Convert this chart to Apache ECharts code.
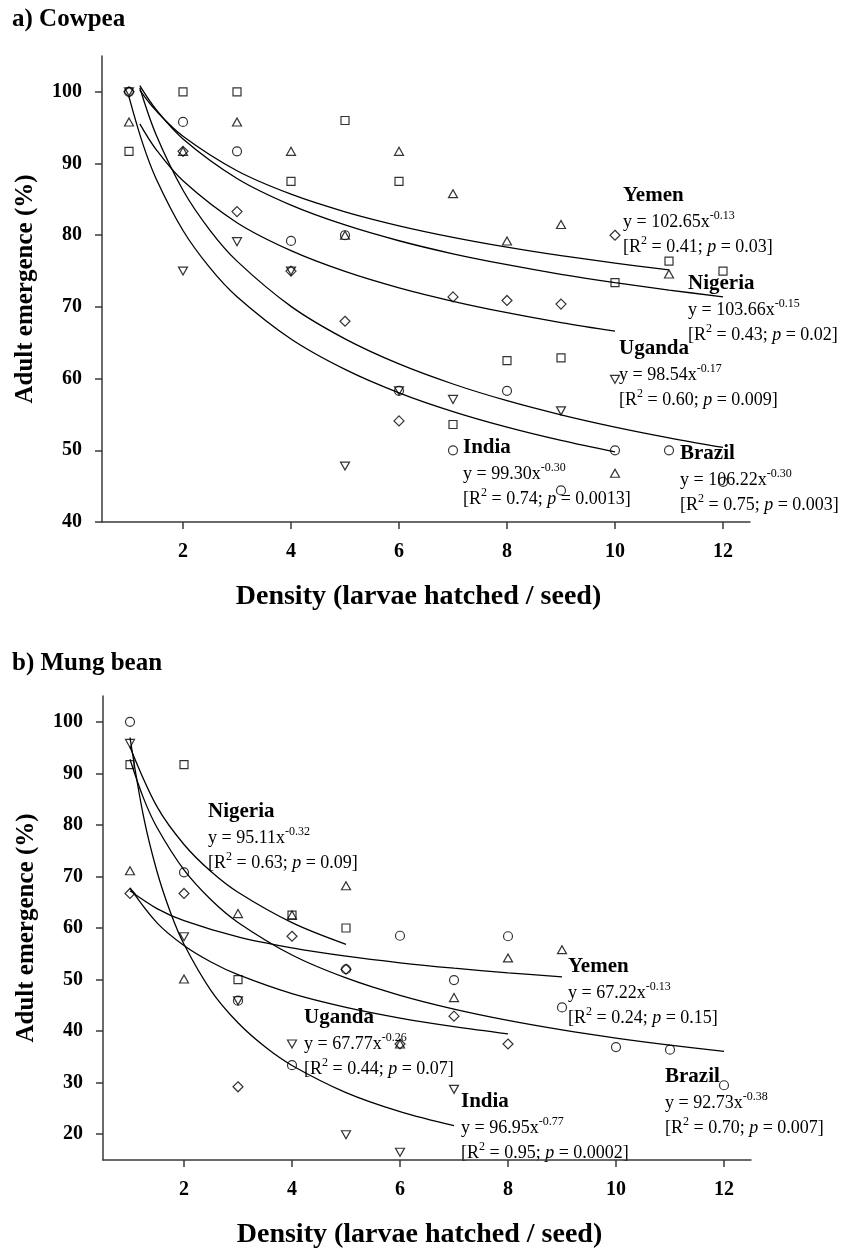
<!DOCTYPE html>
<html>
<head>
<meta charset="utf-8">
<title>Adult emergence vs density</title>
<script src="https://cdn.jsdelivr.net/npm/echarts@6/dist/echarts.min.js"></script>
<style>
  html, body { margin: 0; padding: 0; background: #fff; }
  #chart { width: 841px; height: 1250px; }
</style>
</head>
<body>
<div id="chart"></div>
<script>
// larvae hatched per seed
const density = [1, 2, 3, 4, 5, 6, 7, 8, 9, 10, 11, 12];
const xTicks = [2, 4, 6, 8, 10, 12];
const yTicksCowpea = [40, 50, 60, 70, 80, 90, 100];
const yTicksMung = [20, 30, 40, 50, 60, 70, 80, 90, 100];

// a) Cowpea, adult emergence (%) per density, null = no point
const cowpeaBrazil = [100, 95.8, 91.7, 79.2, 80, 58.3, 50, 58.3, 44.4, 50, 50, 45.6];     // circles
const cowpeaNigeria = [91.7, 100, 100, 87.5, 96, 87.5, 53.6, 62.5, 62.9, 73.4, 76.4, 75]; // squares
const cowpeaYemen = [95.8, 91.7, 95.8, 91.7, 80, 91.7, 85.8, 79.2, 81.5, 46.8, 74.6];     // triangles
const cowpeaIndia = [100, 75, 79.1, 75, 47.8, 58.3, 57.1, null, 55.5, 59.9];              // inverted triangles
const cowpeaUganda = [100, 91.7, 83.3, 75, 68, 54.1, 71.4, 70.9, 70.4, 80];               // diamonds

// b) Mung bean
const mungBrazil = [100, 70.8, 45.9, 33.4, 52, 58.5, 49.9, 58.4, 44.6, 36.9, 36.4, 29.5];
const mungNigeria = [91.7, 91.7, 50, 62.5, 60];
const mungYemen = [71.1, 50.1, 62.8, 62.5, 68.2, 37.5, 46.5, 54.2, 55.8];
const mungIndia = [95.8, 58.3, 45.9, 37.5, 19.9, 16.5, 28.7];
const mungUganda = [66.7, 66.7, 29.2, 58.4, 52, 37.5, 42.9, 37.5];

// fitted power curves y = a*x^b
const fitCowpeaYemen = [[1.2, 100.25], [1.5, 97.38], [2, 93.8], [3, 88.99], [4, 85.72], [5, 83.27], [6, 81.32], [7, 79.71], [8, 78.34], [9, 77.15], [10, 76.11], [11, 75.16]];
const fitCowpeaNigeria = [[1.2, 100.86], [1.5, 97.55], [2, 93.43], [3, 87.92], [4, 84.2], [5, 81.43], [6, 79.23], [7, 77.41], [8, 75.89], [9, 74.55], [10, 73.39], [11, 72.35], [12, 71.41]];
const fitCowpeaUganda = [[1.2, 95.53], [1.5, 91.98], [2, 87.59], [3, 81.75], [4, 77.85], [5, 74.95], [6, 72.66], [7, 70.79], [8, 69.2], [9, 67.82], [10, 66.62]];
const fitCowpeaIndia = [[1, 99.3], [1.25, 92.88], [1.5, 87.92], [2, 80.66], [2.5, 75.44], [3, 71.42], [4, 65.52], [5, 61.28], [6, 58.01], [7, 55.39], [8, 53.22], [9, 51.37], [10, 49.77]];
const fitCowpeaBrazil = [[1.2, 100.57], [1.5, 94.05], [2, 86.28], [2.5, 80.69], [3, 76.39], [4, 70.08], [5, 65.55], [6, 62.05], [7, 59.25], [8, 56.92], [9, 54.95], [10, 53.24], [11, 51.74], [12, 50.4]];

const fitMungNigeria = [[1, 95.11], [1.5, 83.53], [2, 76.19], [2.5, 70.94], [3, 66.92], [4, 61.03], [5, 56.83]];
const fitMungYemen = [[1, 67.22], [1.5, 63.77], [2, 61.43], [3, 58.27], [4, 56.14], [5, 54.53], [6, 53.25], [7, 52.2], [8, 51.3], [9, 50.52]];
const fitMungUganda = [[1, 67.77], [1.5, 61.0], [2, 56.6], [2.5, 53.4], [3, 50.94], [4, 47.26], [5, 44.6], [6, 42.53], [7, 40.87], [8, 39.47]];
const fitMungIndia = [[1, 96.95], [1.25, 81.65], [1.5, 70.95], [1.75, 63.01], [2, 56.85], [2.5, 47.87], [3, 41.61], [3.5, 36.95], [4, 33.34], [5, 28.08], [6, 24.39], [7, 21.67]];
const fitMungBrazil = [[1, 92.73], [1.25, 85.19], [1.5, 79.49], [2, 71.26], [2.5, 65.47], [3, 61.08], [4, 54.76], [5, 50.31], [6, 46.94], [7, 44.27], [8, 42.08], [9, 40.24], [10, 38.66], [11, 37.28], [12, 36.07]];

// equation labels: country, a, exponent, R2, p
const cowpeaLabels = [
  ["Yemen", "102.65", "-0.13", "0.41", "0.03"],
  ["Nigeria", "103.66", "-0.15", "0.43", "0.02"],
  ["Uganda", "98.54", "-0.17", "0.60", "0.009"],
  ["India", "99.30", "-0.30", "0.74", "0.0013"],
  ["Brazil", "106.22", "-0.30", "0.75", "0.003"]
];
const mungLabels = [
  ["Nigeria", "95.11", "-0.32", "0.63", "0.09"],
  ["Yemen", "67.22", "-0.13", "0.24", "0.15"],
  ["Uganda", "67.77", "-0.26", "0.44", "0.07"],
  ["India", "96.95", "-0.77", "0.95", "0.0002"],
  ["Brazil", "92.73", "-0.38", "0.70", "0.007"]
];

// layout (page pixels): left edge and middle of the country line
const cowpeaLabelPos = [[623, 196], [688, 284], [619, 349], [463, 448], [680, 454]];
const mungLabelPos = [[208, 812], [568, 967], [304, 1018], [461, 1102], [665, 1077]];

const SERIF = "'Liberation Serif', 'Times New Roman', serif";
const AXIS_COLOR = "#3a3a3a";

function pairs(values) {
  const out = [];
  values.forEach((v, i) => {
    if (v !== null && v !== undefined) out.push([density[i], v]);
  });
  return out;
}

function xAxisOf(gridIndex) {
  return {
    type: "value",
    gridIndex: gridIndex,
    min: 0.5,
    max: 12.5,
    axisLine: { show: true, onZero: false, lineStyle: { color: AXIS_COLOR, width: 1.5 } },
    axisTick: { show: true, length: 7, customValues: xTicks, lineStyle: { color: AXIS_COLOR, width: 1.5 } },
    axisLabel: { customValues: xTicks, margin: 20, color: "#000", fontFamily: SERIF, fontWeight: "bold", fontSize: 20 },
    splitLine: { show: false },
    name: "Density (larvae hatched / seed)",
    nameLocation: "middle",
    nameGap: 61,
    // title sits a little left of the axis centre
    nameTextStyle: { color: "#000", fontFamily: SERIF, fontWeight: "bold", fontSize: 28, padding: [0, 15, 0, 0] }
  };
}

function yAxisOf(gridIndex, min, ticks) {
  return {
    type: "value",
    gridIndex: gridIndex,
    min: min,
    max: 105,
    axisLine: { show: true, onZero: false, lineStyle: { color: AXIS_COLOR, width: 1.5 } },
    axisTick: { show: true, length: 7, customValues: ticks, lineStyle: { color: AXIS_COLOR, width: 1.5 } },
    axisLabel: { customValues: ticks, margin: 20, color: "#000", fontFamily: SERIF, fontWeight: "bold", fontSize: 20 },
    splitLine: { show: false },
    name: "Adult emergence (%)",
    nameLocation: "middle",
    nameRotate: 90,
    nameGap: 64,
    nameTextStyle: { color: "#000", fontFamily: SERIF, fontWeight: "bold", fontSize: 25 }
  };
}

const markerStyle = { color: "transparent", borderColor: "#000", borderWidth: 1.2 };

function scatter(name, values, idx, symbol, size, rotate) {
  return {
    name: name,
    type: "scatter",
    xAxisIndex: idx,
    yAxisIndex: idx,
    symbol: symbol,
    symbolSize: size,
    symbolRotate: rotate || 0,
    itemStyle: markerStyle,
    data: pairs(values),
    z: 3
  };
}

function curve(name, data, idx) {
  return {
    name: name,
    type: "line",
    xAxisIndex: idx,
    yAxisIndex: idx,
    data: data,
    showSymbol: false,
    symbol: "none",
    smooth: 0.35,
    lineStyle: { color: "#000", width: 1.3 },
    z: 2
  };
}

const richStyle = {
  t: { fontFamily: SERIF, fontSize: 18, lineHeight: 24, color: "#000" },
  i: { fontFamily: SERIF, fontSize: 18, lineHeight: 24, fontStyle: "italic", color: "#000" },
  s: { fontFamily: SERIF, fontSize: 12, lineHeight: 12, verticalAlign: "top", color: "#000" }
};

function labelGraphics(labels, positions) {
  const out = [];
  labels.forEach((l, k) => {
    const x = positions[k][0];
    const y = positions[k][1];
    out.push({
      type: "text", x: x, y: y,
      style: { text: l[0], fontFamily: SERIF, fontWeight: "bold", fontSize: 21, fill: "#000", verticalAlign: "middle" }
    });
    out.push({
      type: "text", x: x, y: y + 26,
      style: { text: "{t|y = " + l[1] + "x}{s|" + l[2] + "}", rich: richStyle, verticalAlign: "middle" }
    });
    out.push({
      type: "text", x: x, y: y + 51,
      style: { text: "{t|[R}{s|2}{t| = " + l[3] + "; }{i|p}{t| = " + l[4] + "]}", rich: richStyle, verticalAlign: "middle" }
    });
  });
  return out;
}

const chart = echarts.init(document.getElementById("chart"));

const option = {
  backgroundColor: "#fff",
  animation: false,
  grid: [
    { left: 102, top: 56, width: 648, height: 466 },
    { left: 103, top: 696, width: 648, height: 466 }
  ],
  xAxis: [xAxisOf(0), xAxisOf(1)],
  yAxis: [yAxisOf(0, 40, yTicksCowpea), yAxisOf(1, 15, yTicksMung)],
  series: [
    curve("Yemen fit", fitCowpeaYemen, 0),
    curve("Nigeria fit", fitCowpeaNigeria, 0),
    curve("Uganda fit", fitCowpeaUganda, 0),
    curve("India fit", fitCowpeaIndia, 0),
    curve("Brazil fit", fitCowpeaBrazil, 0),
    scatter("Brazil", cowpeaBrazil, 0, "circle", 9),
    scatter("Nigeria", cowpeaNigeria, 0, "rect", 8),
    scatter("Yemen", cowpeaYemen, 0, "triangle", [9, 8]),
    scatter("India", cowpeaIndia, 0, "triangle", [9, 8], 180),
    scatter("Uganda", cowpeaUganda, 0, "diamond", [10, 10]),

    curve("Nigeria fit", fitMungNigeria, 1),
    curve("Yemen fit", fitMungYemen, 1),
    curve("Uganda fit", fitMungUganda, 1),
    curve("India fit", fitMungIndia, 1),
    curve("Brazil fit", fitMungBrazil, 1),
    scatter("Brazil", mungBrazil, 1, "circle", 9),
    scatter("Nigeria", mungNigeria, 1, "rect", 8),
    scatter("Yemen", mungYemen, 1, "triangle", [9, 8]),
    scatter("India", mungIndia, 1, "triangle", [9, 8], 180),
    scatter("Uganda", mungUganda, 1, "diamond", [10, 10])
  ],
  graphic: [
    { type: "text", x: 12, y: 20, style: { text: "a) Cowpea", fontFamily: SERIF, fontWeight: "bold", fontSize: 25, fill: "#000", verticalAlign: "middle" } },
    { type: "text", x: 12, y: 664, style: { text: "b) Mung bean", fontFamily: SERIF, fontWeight: "bold", fontSize: 25, fill: "#000", verticalAlign: "middle" } }
  ].concat(labelGraphics(cowpeaLabels, cowpeaLabelPos), labelGraphics(mungLabels, mungLabelPos))
};

chart.setOption(option);
window.addEventListener("resize", () => {
  chart && chart.resize();
});
</script>
</body>
</html>
